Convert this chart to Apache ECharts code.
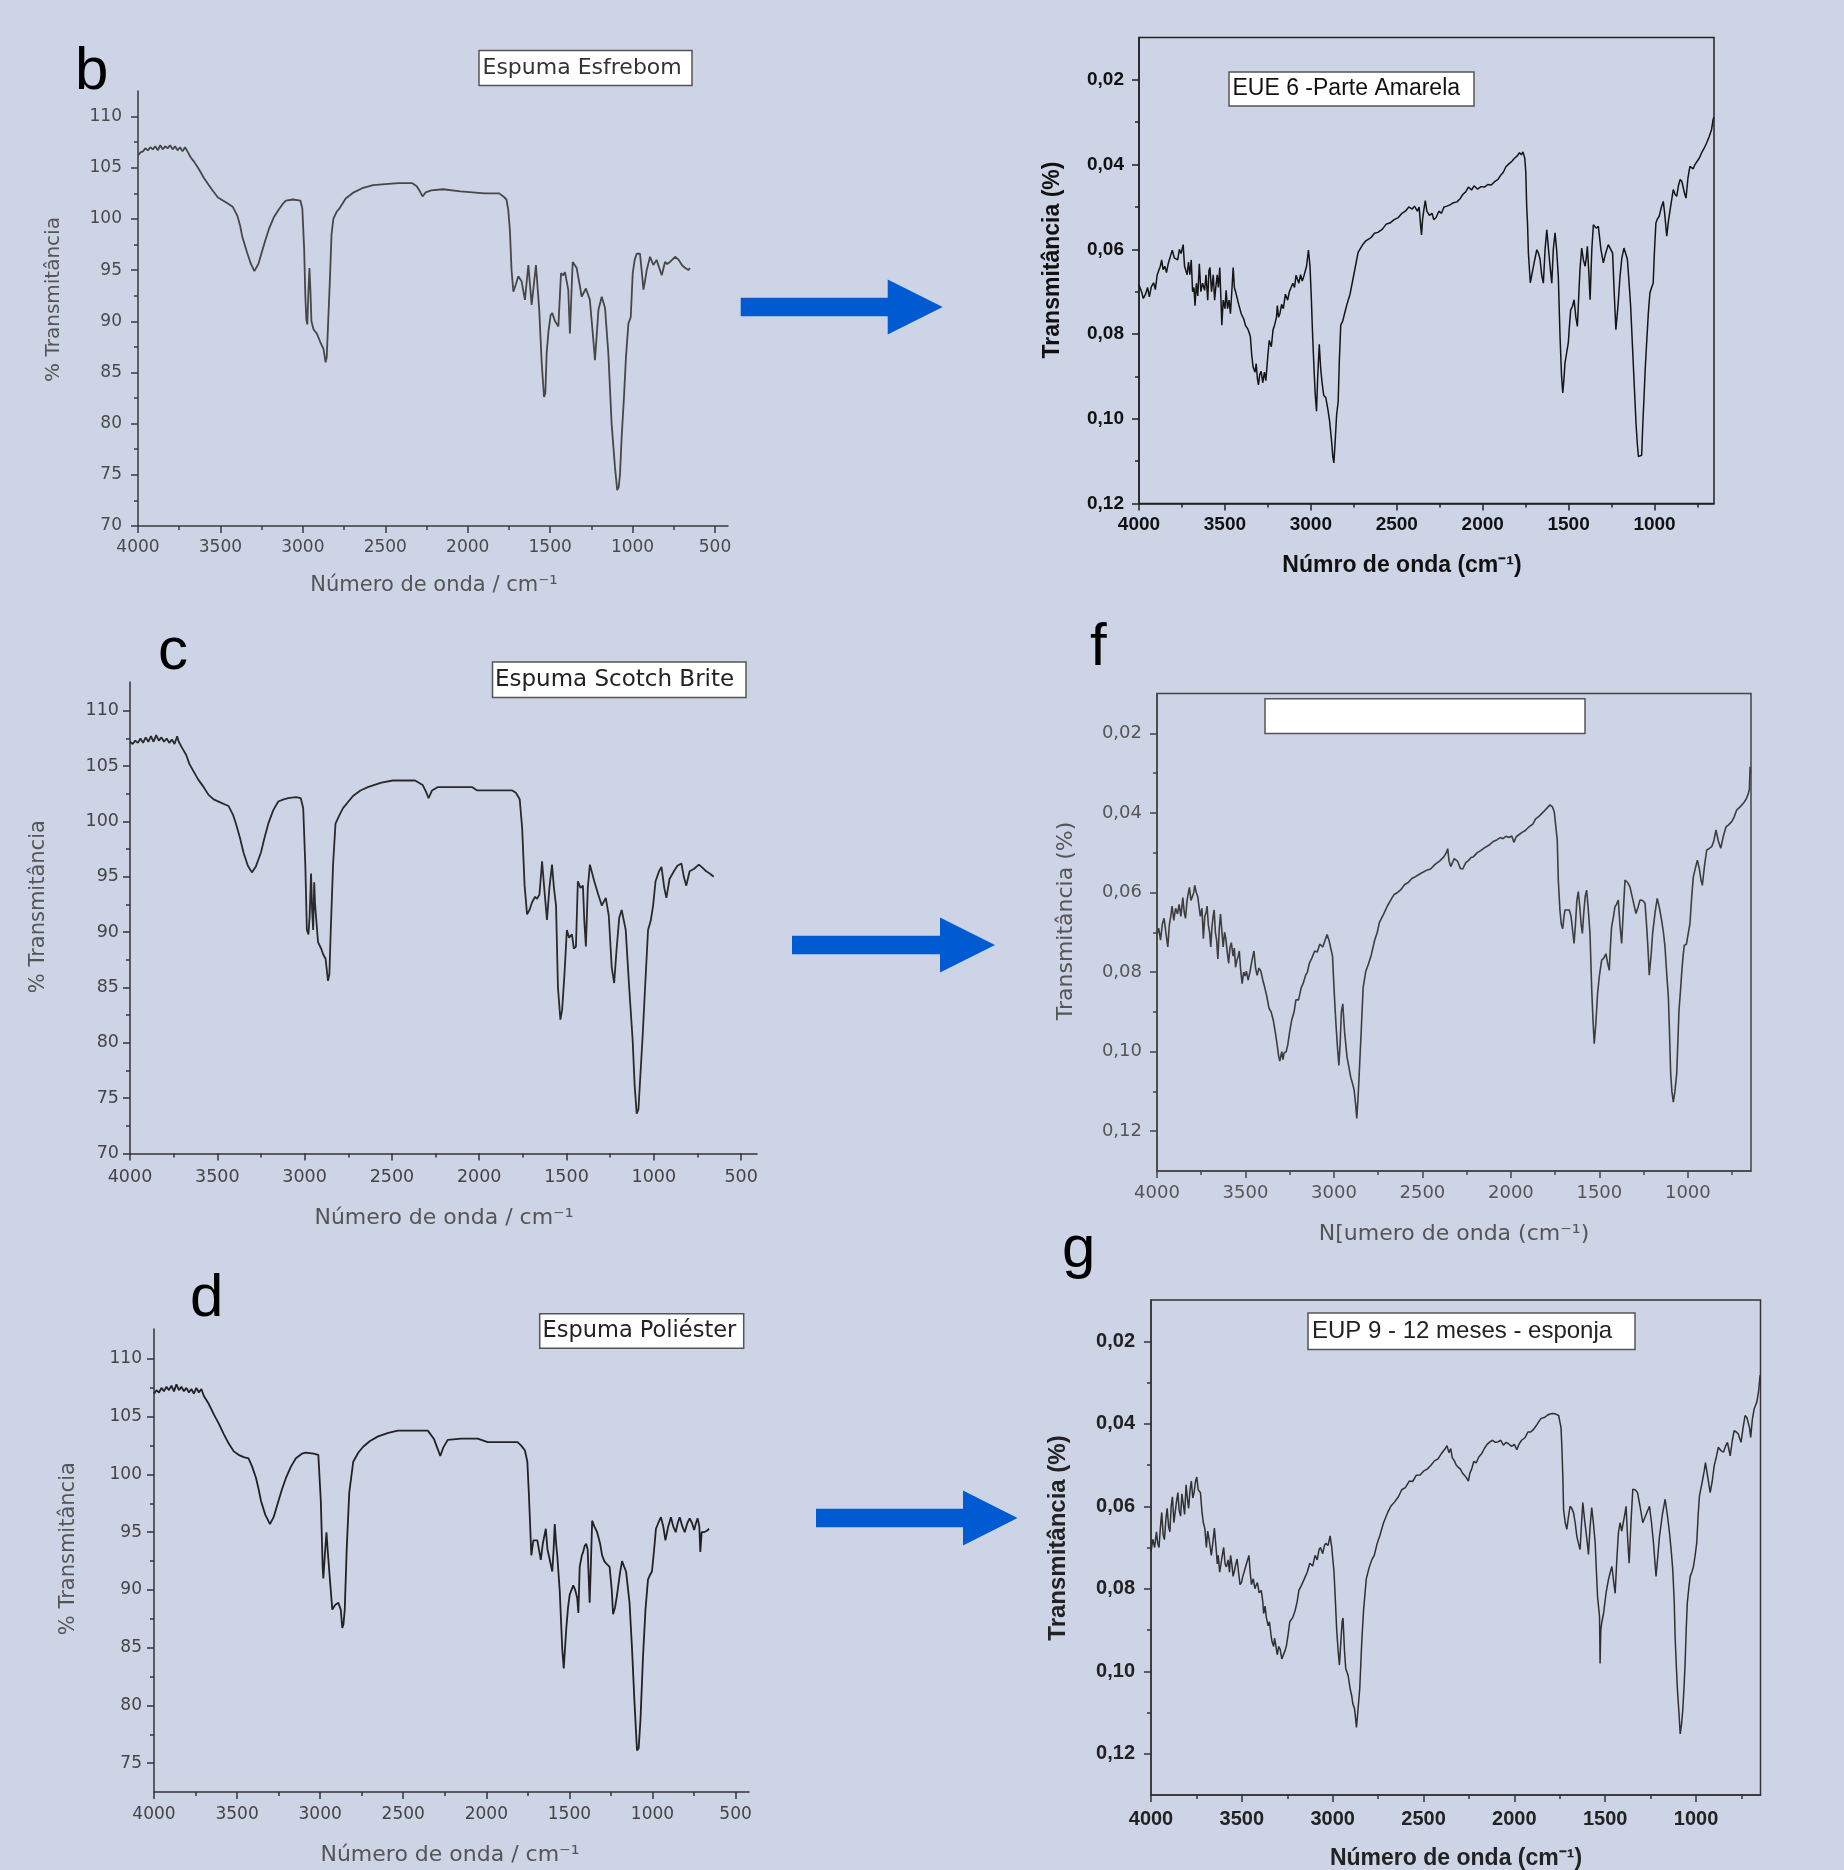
<!DOCTYPE html>
<html><head><meta charset="utf-8">
<script src="https://cdn.jsdelivr.net/npm/echarts@6/dist/echarts.min.js"></script>
<style>html,body{margin:0;padding:0;background:#cdd4e6;}#c{width:1844px;height:1870px;}</style>
</head><body><div id="c"></div>
<script>
// ---------- tick labels ----------
const X_LABELS_BCD = [4000,3500,3000,2500,2000,1500,1000,500];
const X_MINOR = [3750,3250,2750,2250,1750,1250,750];
const X_LABELS_EFG = [4000,3500,3000,2500,2000,1500,1000];
const Y_LABELS_BC = [70,75,80,85,90,95,100,105,110];
const Y_MINOR_BC = [72.5,77.5,82.5,87.5,92.5,97.5,102.5,107.5];
const Y_LABELS_D = [75,80,85,90,95,100,105,110];
const Y_MINOR_D = [77.5,82.5,87.5,92.5,97.5,102.5,107.5];
const Y_LABELS_EFG = [0.02,0.04,0.06,0.08,0.10,0.12];
const Y_MINOR_EFG = [0.03,0.05,0.07,0.09,0.11];

// ---------- spectra [wavenumber, value] ----------
const specB = [[4000,106.2],[3985,106.5],[3970,106.6],[3955,106.9],[3940,106.7],[3925,107.0],[3910,106.8],[3895,107.1],[3880,106.7],[3865,107.2],[3850,106.8],[3835,107.1],[3820,106.9],[3805,107.2],[3790,106.8],[3775,107.1],[3760,106.7],[3745,107.0],[3730,106.6],[3715,107.0],[3700,106.6],[3680,106.0],[3660,105.6],[3632,104.9],[3600,104.0],[3570,103.3],[3544,102.7],[3515,102.1],[3485,101.8],[3455,101.5],[3426,101.2],[3397,100.3],[3380,99.3],[3368,98.3],[3338,96.7],[3315,95.6],[3294,94.9],[3270,95.6],[3250,96.7],[3228,97.9],[3206,99.0],[3175,100.2],[3147,100.9],[3120,101.5],[3103,101.8],[3060,101.9],[3015,101.8],[3003,101.0],[2992,97.0],[2985,92.5],[2979,90.2],[2973,89.7],[2966,93.0],[2960,95.2],[2954,93.0],[2948,90.0],[2935,89.2],[2915,88.8],[2895,88.0],[2875,87.3],[2862,86.0],[2855,86.5],[2845,90.5],[2836,94.0],[2826,98.5],[2815,100.0],[2795,100.7],[2779,101.0],[2740,102.0],[2691,102.6],[2640,103.0],[2574,103.3],[2500,103.4],[2420,103.5],[2338,103.5],[2309,103.2],[2290,102.7],[2274,102.2],[2255,102.6],[2221,102.8],[2150,102.9],[2044,102.7],[1970,102.6],[1897,102.5],[1809,102.5],[1784,102.2],[1765,101.9],[1754,100.9],[1744,98.9],[1734,95.0],[1723,92.9],[1708,93.6],[1693,94.4],[1673,93.9],[1653,92.1],[1632,95.5],[1612,91.6],[1586,95.5],[1566,91.1],[1551,85.9],[1537,82.6],[1529,83.0],[1521,86.9],[1510,89.0],[1497,90.6],[1487,90.8],[1470,90.0],[1450,89.5],[1434,94.7],[1420,94.5],[1410,94.8],[1390,93.1],[1380,88.8],[1370,93.0],[1363,95.8],[1339,95.2],[1320,93.5],[1309,92.4],[1283,93.2],[1259,92.1],[1238,88.2],[1228,86.2],[1218,88.5],[1207,91.1],[1187,92.4],[1167,91.3],[1147,86.9],[1127,80.0],[1107,75.8],[1093,73.5],[1084,73.8],[1076,75.1],[1066,78.7],[1052,82.6],[1040,86.5],[1025,89.8],[1011,90.4],[999,94.7],[987,96.0],[975,96.6],[955,96.6],[945,95.0],[934,93.1],[924,94.0],[914,95.0],[894,96.3],[874,95.5],[854,96.0],[838,95.2],[823,94.5],[803,95.8],[790,95.6],[773,95.8],[742,96.3],[720,96.0],[701,95.5],[680,95.2],[661,95.0],[652,95.2]];

const specC = [[4000,107.2],[3985,107.0],[3970,107.3],[3955,107.1],[3940,107.5],[3925,107.1],[3910,107.6],[3895,107.2],[3880,107.7],[3865,107.2],[3850,107.8],[3835,107.3],[3820,107.6],[3805,107.2],[3790,107.5],[3775,107.1],[3760,107.4],[3745,107.0],[3730,107.7],[3721,107.2],[3700,106.6],[3678,106.0],[3660,105.2],[3635,104.5],[3610,103.8],[3578,103.1],[3550,102.4],[3521,102.0],[3480,101.7],[3436,101.4],[3410,100.6],[3393,99.8],[3370,98.5],[3350,97.2],[3325,96.0],[3302,95.4],[3280,95.9],[3250,97.2],[3230,98.5],[3208,99.8],[3180,101.0],[3151,101.8],[3120,102.0],[3094,102.1],[3050,102.2],[3022,102.1],[3008,101.2],[2996,96.1],[2987,90.2],[2978,89.8],[2971,91.5],[2963,95.3],[2957,92.0],[2951,90.2],[2945,94.5],[2940,92.5],[2923,89.1],[2905,88.5],[2894,88.0],[2880,87.6],[2866,85.6],[2858,86.2],[2851,89.8],[2837,96.1],[2823,99.8],[2800,100.6],[2780,101.2],[2723,102.3],[2680,102.8],[2638,103.1],[2560,103.5],[2495,103.7],[2420,103.7],[2367,103.7],[2324,103.3],[2305,102.7],[2290,102.1],[2270,102.8],[2239,103.1],[2150,103.1],[2039,103.1],[2011,102.8],[1900,102.8],[1811,102.8],[1790,102.6],[1768,102.0],[1754,99.4],[1740,94.2],[1726,91.6],[1712,92.0],[1697,92.7],[1680,93.2],[1669,93.0],[1655,93.4],[1640,96.4],[1625,93.5],[1612,91.1],[1598,94.0],[1583,96.1],[1572,94.0],[1560,92.4],[1549,85.0],[1535,82.1],[1525,83.0],[1512,86.1],[1498,90.2],[1485,89.5],[1469,89.8],[1458,88.5],[1446,88.7],[1435,94.6],[1420,94.0],[1406,94.2],[1398,91.0],[1389,88.7],[1378,94.0],[1366,96.1],[1341,94.6],[1320,93.5],[1298,92.4],[1275,93.1],[1258,91.5],[1241,86.8],[1227,85.4],[1213,88.5],[1198,91.3],[1184,92.0],[1161,90.2],[1141,85.0],[1121,80.2],[1110,76.2],[1098,73.6],[1088,74.0],[1079,76.5],[1064,80.6],[1050,85.0],[1033,90.2],[1018,91.0],[1004,92.4],[990,94.6],[970,95.5],[956,95.9],[940,94.0],[928,93.1],[910,94.8],[885,95.5],[865,96.0],[842,96.2],[828,95.0],[814,94.2],[795,95.5],[771,95.7],[742,96.1],[720,95.8],[700,95.5],[680,95.3],[657,95.0]];

const specD = [[4000,107.0],[3985,107.3],[3970,107.1],[3955,107.5],[3940,107.2],[3925,107.6],[3910,107.3],[3895,107.7],[3880,107.2],[3865,107.8],[3850,107.3],[3835,107.6],[3820,107.2],[3805,107.5],[3790,107.1],[3775,107.4],[3760,107.0],[3745,107.5],[3730,107.1],[3715,107.4],[3700,106.8],[3670,106.1],[3640,105.2],[3610,104.4],[3580,103.5],[3551,102.7],[3520,102.0],[3491,101.7],[3460,101.5],[3431,101.4],[3410,100.7],[3386,99.7],[3370,98.7],[3356,97.7],[3330,96.5],[3302,95.7],[3280,96.3],[3251,97.7],[3230,98.7],[3206,99.7],[3175,100.7],[3146,101.4],[3110,101.8],[3086,101.9],[3040,101.8],[3011,101.7],[2996,97.7],[2985,92.0],[2981,91.0],[2972,93.0],[2962,95.0],[2955,93.5],[2945,91.6],[2927,88.3],[2910,88.7],[2891,88.9],[2876,88.3],[2867,86.7],[2860,87.0],[2852,88.3],[2840,93.6],[2825,98.4],[2801,101.1],[2770,101.9],[2741,102.4],[2700,102.9],[2651,103.3],[2590,103.6],[2532,103.8],[2450,103.8],[2352,103.8],[2316,103.1],[2295,102.3],[2277,101.6],[2260,102.3],[2232,103.0],[2150,103.1],[2052,103.1],[1992,102.8],[1900,102.8],[1812,102.8],[1790,102.5],[1768,102.1],[1753,101.1],[1744,98.4],[1729,93.0],[1717,94.3],[1705,94.3],[1693,94.3],[1682,93.4],[1672,92.6],[1660,94.0],[1642,95.3],[1632,93.5],[1624,93.0],[1603,91.6],[1595,93.5],[1588,95.7],[1580,94.0],[1573,93.0],[1558,89.9],[1543,84.9],[1534,83.2],[1526,85.0],[1519,86.6],[1508,88.5],[1498,89.6],[1487,90.0],[1477,90.4],[1465,90.0],[1453,89.3],[1446,88.0],[1438,92.0],[1425,93.0],[1417,93.3],[1408,93.8],[1399,94.0],[1390,93.5],[1378,88.9],[1370,92.5],[1363,96.0],[1350,95.5],[1333,95.0],[1315,94.0],[1303,93.0],[1290,92.5],[1279,92.3],[1258,92.0],[1245,90.0],[1237,87.9],[1225,88.5],[1213,89.6],[1195,91.5],[1183,92.5],[1170,92.0],[1159,91.6],[1138,88.9],[1123,84.9],[1108,80.2],[1093,76.1],[1083,76.3],[1072,78.8],[1057,84.2],[1042,88.3],[1027,90.9],[1015,91.3],[1003,91.6],[990,93.5],[979,95.3],[965,95.8],[949,96.3],[935,95.5],[922,94.3],[905,95.5],[889,96.3],[875,95.5],[860,95.0],[848,95.8],[836,96.3],[820,95.5],[806,95.0],[790,95.8],[776,96.2],[762,95.8],[749,95.2],[738,95.8],[728,96.2],[718,95.5],[712,93.3],[708,93.3],[704,95.0],[690,95.0],[675,95.1],[659,95.3]];

const specE = [[4000,0.0684],[3985,0.0700],[3975,0.0716],[3962,0.0706],[3950,0.0690],[3940,0.0712],[3928,0.0688],[3915,0.0679],[3905,0.0695],[3894,0.0660],[3884,0.0661],[3876,0.0640],[3868,0.0625],[3860,0.0648],[3850,0.0640],[3840,0.0655],[3830,0.0634],[3822,0.0634],[3814,0.0612],[3806,0.0602],[3795,0.0620],[3785,0.0618],[3775,0.0625],[3765,0.0600],[3755,0.0610],[3743,0.0589],[3735,0.0640],[3728,0.0643],[3720,0.0660],[3712,0.0630],[3704,0.0660],[3696,0.0625],[3688,0.0700],[3680,0.0690],[3674,0.0733],[3666,0.0680],[3658,0.0710],[3649,0.0634],[3640,0.0700],[3630,0.0680],[3618,0.0697],[3610,0.0660],[3600,0.0720],[3593,0.0650],[3587,0.0643],[3578,0.0700],[3568,0.0660],[3560,0.0720],[3555,0.0697],[3545,0.0660],[3538,0.0690],[3530,0.0643],[3523,0.0720],[3518,0.0779],[3510,0.0720],[3500,0.0740],[3493,0.0697],[3485,0.0740],[3476,0.0720],[3468,0.0752],[3460,0.0700],[3452,0.0643],[3445,0.0690],[3438,0.0700],[3430,0.0697],[3420,0.0730],[3405,0.0752],[3390,0.0765],[3380,0.0780],[3367,0.0788],[3360,0.0795],[3352,0.0806],[3344,0.0850],[3336,0.0878],[3325,0.0890],[3318,0.0870],[3311,0.0905],[3305,0.0920],[3297,0.0895],[3289,0.0888],[3280,0.0915],[3270,0.0890],[3262,0.0910],[3258,0.0914],[3250,0.0850],[3242,0.0815],[3230,0.0830],[3220,0.0790],[3211,0.0779],[3200,0.0760],[3195,0.0733],[3188,0.0760],[3180,0.0752],[3170,0.0730],[3160,0.0740],[3148,0.0706],[3135,0.0720],[3125,0.0700],[3117,0.0697],[3105,0.0680],[3095,0.0690],[3086,0.0661],[3070,0.0680],[3060,0.0660],[3050,0.0675],[3039,0.0661],[3025,0.0640],[3014,0.0602],[3005,0.0640],[2998,0.0706],[2990,0.0800],[2982,0.0878],[2975,0.0940],[2967,0.0982],[2960,0.0900],[2951,0.0824],[2943,0.0880],[2935,0.0914],[2925,0.0945],[2913,0.0950],[2900,0.0980],[2891,0.1005],[2880,0.1050],[2872,0.1090],[2866,0.1104],[2858,0.1050],[2850,0.0990],[2841,0.0960],[2834,0.0860],[2826,0.0779],[2815,0.0770],[2804,0.0752],[2790,0.0730],[2772,0.0706],[2750,0.0660],[2725,0.0607],[2700,0.0590],[2680,0.0580],[2660,0.0575],[2647,0.0571],[2630,0.0562],[2610,0.0560],[2585,0.0553],[2560,0.0540],[2540,0.0538],[2515,0.0530],[2491,0.0525],[2470,0.0515],[2450,0.0510],[2430,0.0500],[2410,0.0505],[2397,0.0498],[2380,0.0510],[2370,0.0500],[2362,0.0540],[2356,0.0566],[2350,0.0530],[2340,0.0500],[2334,0.0485],[2325,0.0510],[2310,0.0520],[2295,0.0515],[2285,0.0530],[2271,0.0525],[2255,0.0510],[2240,0.0515],[2225,0.0500],[2208,0.0498],[2190,0.0495],[2170,0.0490],[2150,0.0488],[2130,0.0480],[2115,0.0470],[2100,0.0465],[2083,0.0453],[2065,0.0460],[2050,0.0450],[2030,0.0458],[2010,0.0452],[1990,0.0453],[1970,0.0447],[1950,0.0448],[1930,0.0440],[1911,0.0435],[1895,0.0425],[1880,0.0418],[1865,0.0405],[1849,0.0399],[1830,0.0392],[1815,0.0385],[1800,0.0380],[1786,0.0372],[1775,0.0377],[1766,0.0370],[1755,0.0385],[1749,0.0420],[1744,0.0498],[1739,0.0540],[1734,0.0609],[1723,0.0679],[1714,0.0680],[1700,0.0630],[1685,0.0601],[1675,0.0610],[1666,0.0624],[1657,0.0660],[1647,0.0680],[1637,0.0600],[1627,0.0554],[1617,0.0600],[1608,0.0640],[1598,0.0680],[1589,0.0600],[1579,0.0561],[1570,0.0600],[1560,0.0664],[1550,0.0806],[1541,0.0900],[1534,0.0939],[1528,0.0910],[1521,0.0868],[1502,0.0821],[1495,0.0780],[1488,0.0743],[1478,0.0735],[1468,0.0719],[1458,0.0760],[1449,0.0782],[1440,0.0700],[1434,0.0648],[1424,0.0597],[1414,0.0625],[1404,0.0640],[1397,0.0620],[1391,0.0593],[1383,0.0650],[1375,0.0719],[1365,0.0600],[1356,0.0542],[1340,0.0550],[1327,0.0546],[1312,0.0600],[1298,0.0632],[1285,0.0610],[1269,0.0589],[1255,0.0600],[1244,0.0609],[1235,0.0700],[1225,0.0790],[1212,0.0730],[1201,0.0664],[1190,0.0620],[1178,0.0597],[1168,0.0610],[1158,0.0624],[1148,0.0680],[1139,0.0735],[1124,0.0868],[1108,0.1010],[1100,0.1060],[1094,0.1089],[1085,0.1090],[1075,0.1086],[1068,0.1010],[1061,0.0947],[1054,0.0880],[1046,0.0821],[1036,0.0750],[1027,0.0703],[1017,0.0690],[1008,0.0680],[1000,0.0600],[992,0.0538],[983,0.0528],[973,0.0522],[960,0.0500],[949,0.0487],[940,0.0520],[929,0.0569],[918,0.0530],[906,0.0498],[891,0.0459],[881,0.0470],[871,0.0475],[861,0.0450],[851,0.0435],[841,0.0440],[832,0.0439],[824,0.0470],[817,0.0479],[805,0.0430],[794,0.0404],[775,0.0410],[765,0.0400],[755,0.0404],[740,0.0385],[726,0.0372],[712,0.0362],[697,0.0349],[683,0.0335],[668,0.0317],[660,0.0295],[655,0.0288]];

const specF = [[4000,0.0706],[3990,0.0690],[3980,0.0720],[3970,0.0680],[3960,0.0665],[3950,0.0700],[3939,0.0737],[3930,0.0680],[3922,0.0660],[3915,0.0634],[3905,0.0670],[3895,0.0640],[3884,0.0654],[3875,0.0630],[3865,0.0660],[3854,0.0613],[3846,0.0650],[3839,0.0665],[3830,0.0620],[3822,0.0600],[3817,0.0587],[3808,0.0620],[3799,0.0623],[3792,0.0600],[3787,0.0582],[3778,0.0600],[3770,0.0610],[3763,0.0613],[3755,0.0660],[3746,0.0640],[3738,0.0716],[3730,0.0660],[3722,0.0650],[3717,0.0634],[3710,0.0680],[3703,0.0700],[3696,0.0737],[3690,0.0690],[3683,0.0660],[3677,0.0644],[3670,0.0700],[3663,0.0720],[3656,0.0767],[3648,0.0690],[3641,0.0654],[3633,0.0700],[3626,0.0737],[3618,0.0700],[3611,0.0716],[3603,0.0750],[3595,0.0778],[3588,0.0740],[3580,0.0726],[3570,0.0760],[3563,0.0740],[3556,0.0788],[3548,0.0770],[3541,0.0760],[3535,0.0747],[3528,0.0790],[3519,0.0829],[3510,0.0800],[3503,0.0810],[3495,0.0798],[3485,0.0820],[3474,0.0798],[3463,0.0770],[3452,0.0747],[3443,0.0790],[3434,0.0808],[3424,0.0790],[3413,0.0798],[3402,0.0820],[3391,0.0839],[3380,0.0860],[3367,0.0891],[3355,0.0900],[3343,0.0921],[3332,0.0950],[3321,0.0983],[3313,0.1010],[3306,0.1024],[3295,0.1000],[3288,0.1020],[3282,0.1004],[3270,0.1000],[3261,0.0983],[3250,0.0950],[3239,0.0921],[3225,0.0900],[3215,0.0870],[3200,0.0870],[3185,0.0839],[3175,0.0830],[3160,0.0808],[3150,0.0800],[3139,0.0778],[3125,0.0765],[3109,0.0747],[3095,0.0750],[3080,0.0730],[3063,0.0737],[3050,0.0720],[3039,0.0706],[3028,0.0720],[3017,0.0716],[3008,0.0760],[3002,0.0819],[2995,0.0880],[2987,0.0942],[2980,0.0990],[2972,0.1035],[2965,0.0980],[2958,0.0900],[2950,0.0880],[2940,0.0950],[2926,0.1014],[2915,0.1040],[2905,0.1065],[2895,0.1080],[2886,0.1096],[2878,0.1130],[2871,0.1168],[2863,0.1110],[2856,0.1045],[2845,0.0940],[2835,0.0839],[2820,0.0798],[2805,0.0780],[2789,0.0757],[2770,0.0720],[2755,0.0700],[2743,0.0675],[2720,0.0655],[2698,0.0634],[2680,0.0620],[2660,0.0605],[2640,0.0600],[2622,0.0593],[2600,0.0580],[2580,0.0575],[2560,0.0565],[2546,0.0562],[2520,0.0555],[2500,0.0550],[2480,0.0545],[2454,0.0541],[2430,0.0530],[2400,0.0520],[2378,0.0510],[2365,0.0500],[2357,0.0490],[2350,0.0520],[2340,0.0535],[2333,0.0531],[2320,0.0515],[2302,0.0521],[2285,0.0540],[2272,0.0541],[2255,0.0525],[2240,0.0520],[2225,0.0512],[2211,0.0510],[2190,0.0500],[2170,0.0495],[2150,0.0488],[2120,0.0480],[2100,0.0472],[2080,0.0468],[2060,0.0462],[2045,0.0465],[2028,0.0459],[2010,0.0462],[1995,0.0458],[1983,0.0474],[1970,0.0460],[1955,0.0455],[1937,0.0449],[1920,0.0445],[1900,0.0436],[1876,0.0428],[1860,0.0415],[1840,0.0408],[1815,0.0397],[1800,0.0390],[1790,0.0386],[1779,0.0380],[1765,0.0385],[1755,0.0397],[1745,0.0401],[1738,0.0468],[1732,0.0569],[1723,0.0644],[1715,0.0680],[1707,0.0691],[1700,0.0660],[1694,0.0644],[1685,0.0645],[1670,0.0644],[1660,0.0660],[1650,0.0700],[1643,0.0728],[1635,0.0680],[1627,0.0620],[1619,0.0598],[1610,0.0640],[1603,0.0680],[1596,0.0703],[1588,0.0650],[1580,0.0610],[1572,0.0594],[1563,0.0640],[1553,0.0703],[1543,0.0846],[1536,0.0920],[1529,0.0980],[1520,0.0930],[1510,0.0854],[1500,0.0810],[1487,0.0770],[1475,0.0765],[1463,0.0754],[1452,0.0780],[1444,0.0796],[1438,0.0740],[1431,0.0687],[1420,0.0660],[1412,0.0636],[1403,0.0630],[1393,0.0619],[1384,0.0680],[1374,0.0728],[1365,0.0650],[1355,0.0569],[1340,0.0575],[1327,0.0586],[1310,0.0620],[1293,0.0653],[1280,0.0635],[1270,0.0619],[1255,0.0620],[1242,0.0627],[1235,0.0670],[1229,0.0712],[1223,0.0760],[1218,0.0808],[1208,0.0760],[1199,0.0703],[1185,0.0650],[1173,0.0615],[1160,0.0640],[1148,0.0670],[1138,0.0700],[1129,0.0737],[1120,0.0800],[1110,0.0863],[1103,0.0960],[1097,0.1056],[1090,0.1100],[1082,0.1127],[1073,0.1100],[1063,0.1056],[1055,0.0960],[1050,0.0896],[1042,0.0850],[1035,0.0804],[1027,0.0760],[1020,0.0733],[1008,0.0730],[997,0.0725],[988,0.0678],[978,0.0610],[969,0.0561],[958,0.0540],[946,0.0519],[935,0.0540],[925,0.0570],[918,0.0582],[905,0.0530],[893,0.0493],[880,0.0490],[865,0.0485],[853,0.0470],[841,0.0443],[828,0.0470],[814,0.0489],[800,0.0460],[784,0.0435],[770,0.0430],[752,0.0422],[738,0.0410],[724,0.0393],[705,0.0385],[686,0.0376],[670,0.0365],[658,0.0351],[652,0.0340],[648,0.0284],[645,0.0300]];

const specG = [[4000,0.0710],[3990,0.0680],[3980,0.0700],[3970,0.0662],[3963,0.0690],[3956,0.0700],[3948,0.0650],[3941,0.0615],[3933,0.0670],[3926,0.0681],[3918,0.0630],[3911,0.0605],[3903,0.0650],[3896,0.0662],[3889,0.0600],[3882,0.0577],[3874,0.0640],[3867,0.0643],[3860,0.0590],[3852,0.0567],[3845,0.0610],[3837,0.0624],[3830,0.0570],[3822,0.0596],[3815,0.0620],[3807,0.0548],[3800,0.0580],[3793,0.0605],[3785,0.0560],[3778,0.0539],[3770,0.0580],[3763,0.0567],[3755,0.0540],[3748,0.0529],[3740,0.0560],[3728,0.0567],[3719,0.0615],[3712,0.0640],[3704,0.0653],[3695,0.0700],[3688,0.0660],[3680,0.0681],[3674,0.0700],[3668,0.0719],[3660,0.0690],[3651,0.0653],[3642,0.0700],[3635,0.0740],[3630,0.0719],[3622,0.0760],[3615,0.0757],[3608,0.0720],[3600,0.0700],[3592,0.0740],[3585,0.0747],[3575,0.0730],[3568,0.0760],[3562,0.0719],[3555,0.0740],[3548,0.0770],[3541,0.0757],[3533,0.0740],[3526,0.0728],[3518,0.0760],[3510,0.0790],[3502,0.0785],[3495,0.0770],[3488,0.0760],[3482,0.0757],[3475,0.0740],[3468,0.0740],[3461,0.0719],[3454,0.0760],[3447,0.0790],[3437,0.0776],[3428,0.0800],[3420,0.0790],[3414,0.0785],[3405,0.0810],[3393,0.0804],[3385,0.0830],[3380,0.0860],[3372,0.0842],[3365,0.0870],[3355,0.0890],[3348,0.0880],[3340,0.0910],[3334,0.0928],[3325,0.0940],[3320,0.0920],[3313,0.0937],[3305,0.0960],[3297,0.0940],[3289,0.0947],[3280,0.0970],[3271,0.0970],[3262,0.0950],[3254,0.0937],[3245,0.0910],[3236,0.0880],[3220,0.0870],[3206,0.0852],[3195,0.0830],[3186,0.0804],[3170,0.0790],[3156,0.0776],[3140,0.0760],[3126,0.0738],[3110,0.0745],[3097,0.0719],[3085,0.0730],[3075,0.0705],[3067,0.0700],[3055,0.0715],[3045,0.0695],[3038,0.0690],[3025,0.0695],[3014,0.0672],[3005,0.0700],[2993,0.0757],[2985,0.0830],[2978,0.0899],[2970,0.0950],[2963,0.0985],[2955,0.0930],[2948,0.0880],[2943,0.0871],[2935,0.0950],[2928,0.0994],[2915,0.1010],[2904,0.1042],[2895,0.1060],[2889,0.1079],[2880,0.1090],[2875,0.1110],[2869,0.1136],[2860,0.1090],[2851,0.1042],[2840,0.0930],[2830,0.0852],[2815,0.0776],[2800,0.0750],[2785,0.0730],[2771,0.0719],[2755,0.0690],[2741,0.0672],[2720,0.0640],[2697,0.0615],[2680,0.0600],[2660,0.0590],[2638,0.0577],[2620,0.0560],[2600,0.0555],[2578,0.0539],[2560,0.0540],[2540,0.0525],[2519,0.0524],[2500,0.0515],[2480,0.0510],[2460,0.0501],[2440,0.0490],[2420,0.0485],[2401,0.0472],[2390,0.0470],[2380,0.0460],[2371,0.0453],[2360,0.0470],[2350,0.0460],[2342,0.0482],[2330,0.0490],[2320,0.0500],[2310,0.0505],[2297,0.0510],[2285,0.0520],[2275,0.0525],[2265,0.0530],[2253,0.0539],[2245,0.0520],[2235,0.0510],[2223,0.0491],[2210,0.0495],[2195,0.0480],[2179,0.0472],[2165,0.0460],[2150,0.0450],[2134,0.0444],[2120,0.0440],[2105,0.0445],[2090,0.0444],[2075,0.0440],[2060,0.0452],[2045,0.0445],[2031,0.0449],[2015,0.0455],[2000,0.0450],[1986,0.0463],[1975,0.0450],[1960,0.0440],[1942,0.0434],[1925,0.0420],[1910,0.0420],[1897,0.0415],[1880,0.0405],[1865,0.0395],[1853,0.0387],[1835,0.0385],[1820,0.0380],[1808,0.0377],[1790,0.0375],[1775,0.0376],[1765,0.0373],[1756,0.0380],[1748,0.0384],[1743,0.0410],[1738,0.0461],[1733,0.0530],[1729,0.0608],[1720,0.0640],[1711,0.0656],[1702,0.0625],[1693,0.0600],[1684,0.0605],[1674,0.0616],[1665,0.0640],[1656,0.0673],[1647,0.0690],[1638,0.0705],[1630,0.0640],[1623,0.0591],[1614,0.0630],[1605,0.0664],[1598,0.0690],[1592,0.0717],[1583,0.0650],[1574,0.0603],[1565,0.0640],[1555,0.0689],[1548,0.0760],[1542,0.0819],[1535,0.0850],[1531,0.0868],[1528,0.0981],[1524,0.0900],[1518,0.0880],[1509,0.0860],[1495,0.0810],[1482,0.0778],[1472,0.0760],[1463,0.0746],[1454,0.0780],[1445,0.0811],[1436,0.0730],[1427,0.0664],[1418,0.0640],[1409,0.0660],[1400,0.0656],[1392,0.0620],[1385,0.0600],[1376,0.0680],[1368,0.0738],[1358,0.0640],[1348,0.0559],[1335,0.0560],[1322,0.0567],[1308,0.0600],[1293,0.0640],[1275,0.0620],[1256,0.0600],[1245,0.0640],[1234,0.0689],[1227,0.0730],[1220,0.0770],[1210,0.0720],[1201,0.0673],[1185,0.0620],[1170,0.0583],[1158,0.0620],[1146,0.0664],[1136,0.0710],[1128,0.0754],[1120,0.0830],[1115,0.0917],[1108,0.0990],[1102,0.1047],[1094,0.1100],[1087,0.1152],[1080,0.1130],[1073,0.1095],[1066,0.1040],[1060,0.0981],[1054,0.0900],[1048,0.0835],[1040,0.0800],[1032,0.0770],[1023,0.0760],[1014,0.0746],[1005,0.0720],[996,0.0689],[988,0.0620],[981,0.0575],[972,0.0555],[963,0.0534],[955,0.0515],[948,0.0494],[935,0.0530],[922,0.0567],[911,0.0540],[900,0.0502],[888,0.0480],[877,0.0457],[863,0.0465],[849,0.0469],[838,0.0455],[827,0.0445],[820,0.0460],[812,0.0478],[800,0.0440],[790,0.0417],[778,0.0420],[767,0.0425],[760,0.0435],[752,0.0445],[741,0.0410],[730,0.0380],[720,0.0385],[712,0.0388],[705,0.0410],[699,0.0433],[690,0.0390],[680,0.0364],[672,0.0355],[665,0.0347],[656,0.0323],[647,0.0282]];

// ---------- panel layout / styling ----------
const DJ = "'DejaVu Sans', sans-serif";
const LS = "'Liberation Sans', Arial, sans-serif";
const panels = [
  {data:specB, grid:{left:138,top:91,width:590,height:435}, xMin:421, yMin:70, yMax:112.5, yInv:false, box:false,
   xLab:X_LABELS_BCD, yLab:Y_LABELS_BC, yMin2:Y_MINOR_BC, axisColor:'#3a3a3a', labColor:'#4a4a4a', font:DJ, fs:17, fw:'normal',
   lineColor:'#474747', lw:1.8, xMargin:13, yMargin:16, fmt:null},
  {data:specC, grid:{left:130,top:682,width:627,height:471.5}, xMin:409, yMin:70, yMax:112.6, yInv:false, box:false,
   xLab:X_LABELS_BCD, yLab:Y_LABELS_BC, yMin2:Y_MINOR_BC, axisColor:'#333', labColor:'#444', font:DJ, fs:17.5, fw:'normal',
   lineColor:'#2a2a2a', lw:1.8, xMargin:15, yMargin:11, fmt:null},
  {data:specD, grid:{left:154,top:1329,width:595,height:463}, xMin:419, yMin:72.5, yMax:112.6, yInv:false, box:false,
   xLab:X_LABELS_BCD, yLab:Y_LABELS_D, yMin2:Y_MINOR_D, axisColor:'#333', labColor:'#444', font:DJ, fs:17, fw:'normal',
   lineColor:'#222', lw:1.8, xMargin:14, yMargin:12, fmt:null},
  {data:specE, grid:{left:1139,top:37.5,width:575,height:466}, xMin:654, yMin:0.01, yMax:0.12, yInv:true, box:true,
   xLab:X_LABELS_EFG, yLab:Y_LABELS_EFG, yMin2:Y_MINOR_EFG, axisColor:'#222', labColor:'#111', font:LS, fs:19, fw:'bold',
   lineColor:'#151515', lw:1.5, xMargin:12, yMargin:15, fmt:'comma'},
  {data:specF, grid:{left:1157,top:693.5,width:594,height:477.5}, xMin:643, yMin:0.01, yMax:0.13, yInv:true, box:true,
   xLab:X_LABELS_EFG, yLab:Y_LABELS_EFG, yMin2:Y_MINOR_EFG, axisColor:'#444', labColor:'#555', font:DJ, fs:18, fw:'normal',
   lineColor:'#3e3e3e', lw:1.6, xMargin:13, yMargin:15, fmt:'comma'},
  {data:specG, grid:{left:1151,top:1300,width:609.5,height:495}, xMin:645, yMin:0.01, yMax:0.13, yInv:true, box:true,
   xLab:X_LABELS_EFG, yLab:Y_LABELS_EFG, yMin2:Y_MINOR_EFG, axisColor:'#333', labColor:'#222', font:LS, fs:20, fw:'bold',
   lineColor:'#303030', lw:1.5, xMargin:14, yMargin:16, fmt:'comma'}
];

const grids = [], xAxes = [], yAxes = [], series = [];
panels.forEach((p, i) => {
  grids.push(Object.assign({show:p.box, borderColor:p.axisColor, borderWidth:1.5, backgroundColor:'transparent'}, p.grid));
  const ls = {color:p.axisColor, width:1.5};
  const lab = {color:p.labColor, fontSize:p.fs, fontFamily:p.font, fontWeight:p.fw};
  xAxes.push({gridIndex:i, type:'value', position:'bottom', inverse:true, min:p.xMin, max:4000,
    axisLine:{show:true, onZero:false, lineStyle:ls},
    axisTick:{show:true, customValues:p.xLab, length:7, lineStyle:ls},
    axisLabel:Object.assign({customValues:p.xLab, margin:p.xMargin, formatter:(v => String(Math.round(v)))}, lab),
    splitLine:{show:false}});
  xAxes.push({gridIndex:i, type:'value', position:'bottom', inverse:true, min:p.xMin, max:4000,
    axisLine:{show:false, onZero:false}, axisTick:{show:true, customValues:X_MINOR, length:4, lineStyle:ls},
    axisLabel:{show:false}, splitLine:{show:false}});
  const fmt = p.fmt === 'comma' ? (v => v.toFixed(2).replace('.', ',')) : (v => String(v));
  yAxes.push({gridIndex:i, type:'value', position:'left', inverse:p.yInv, min:p.yMin, max:p.yMax,
    axisLine:{show:true, onZero:false, lineStyle:ls},
    axisTick:{show:true, customValues:p.yLab, length:7, lineStyle:ls},
    axisLabel:Object.assign({customValues:p.yLab, margin:p.yMargin, formatter:fmt}, lab),
    splitLine:{show:false}});
  yAxes.push({gridIndex:i, type:'value', position:'left', inverse:p.yInv, min:p.yMin, max:p.yMax,
    axisLine:{show:false, onZero:false}, axisTick:{show:true, customValues:p.yMin2, length:4, lineStyle:ls},
    axisLabel:{show:false}, splitLine:{show:false}});
  series.push({type:'line', xAxisIndex:2*i, yAxisIndex:2*i, data:p.data, showSymbol:false, symbol:'none',
    lineStyle:{color:p.lineColor, width:p.lw}, silent:true, clip:true});
});

// ---------- annotations ----------
function txt(text, x, y, font, fill, opts) {
  return Object.assign({type:'text', x:x, y:y, z:100,
    style:{text:text, font:font, fill:fill, textAlign:(opts&&opts.align)||'center', textVerticalAlign:'middle'}},
    opts && opts.rot ? {rotation:opts.rot} : {});
}
function box(x, y, w, h) {
  return {type:'rect', z:99, shape:{x:x, y:y, width:w, height:h}, style:{fill:'#ffffff', stroke:'#555', lineWidth:1.5}};
}
function arrow(x0, x1, x2, cy) {
  return {type:'polygon', z:90, shape:{points:[[x0,cy-9.2],[x1,cy-9.2],[x1,cy-27.5],[x2,cy],[x1,cy+27.5],[x1,cy+9.2],[x0,cy+9.2]]},
    style:{fill:'#005bd3'}};
}
const R = Math.PI/2;
const graphic = [
  arrow(740.7, 887.7, 942.7, 307),
  arrow(792, 940, 995, 945),
  arrow(816, 963, 1017.5, 1518),
  txt('b', 75, 72, "60px "+LS, '#000', {align:'left'}),
  txt('c', 158, 652, "60px "+LS, '#000', {align:'left'}),
  txt('d', 190, 1299, "60px "+LS, '#000', {align:'left'}),
  txt('f', 1090, 648, "60px "+LS, '#000', {align:'left'}),
  txt('g', 1062, 1250, "60px "+LS, '#000', {align:'left'}),
  box(479, 50.6, 213, 34.8), txt('Espuma Esfrebom', 482.5, 68, "22px "+DJ, '#333', {align:'left'}),
  box(492.5, 662, 253.5, 35.6), txt('Espuma Scotch Brite', 495, 680, "23px "+DJ, '#222', {align:'left'}),
  box(539.7, 1313.7, 204, 34.6), txt('Espuma Poliéster', 542.5, 1331, "22.5px "+DJ, '#222', {align:'left'}),
  box(1229, 72, 245, 34), txt('EUE 6 -Parte Amarela', 1232.5, 89, "23px "+LS, '#111', {align:'left'}),
  box(1265, 698.8, 320, 34.7),
  box(1308, 1313, 327, 36.5), txt('EUP 9 - 12 meses - esponja', 1312, 1331, "24px "+LS, '#222', {align:'left'}),
  txt('% Transmitância', 53.3, 299.5, "20px "+DJ, '#555', {rot:R}),
  txt('Número de onda / cm⁻¹', 434, 586, "21px "+DJ, '#555'),
  txt('% Transmitância', 38.5, 906.7, "21px "+DJ, '#555', {rot:R}),
  txt('Número de onda / cm⁻¹', 444, 1218, "22px "+DJ, '#555'),
  txt('% Transmitância', 68.5, 1548.7, "21px "+DJ, '#555', {rot:R}),
  txt('Número de onda / cm⁻¹', 450, 1855, "22px "+DJ, '#555'),
  txt('Transmitância (%)', 1052.5, 260, "bold 23px "+LS, '#111', {rot:R}),
  txt('Númro de onda (cm⁻¹)', 1402, 566, "bold 23px "+LS, '#111'),
  txt('Transmitância (%)', 1066, 921, "22px "+DJ, '#555', {rot:R}),
  txt('N[umero de onda (cm⁻¹)', 1454, 1234, "22px "+DJ, '#555'),
  txt('Transmitância (%)', 1058, 1538, "bold 24px "+LS, '#222', {rot:R}),
  txt('Número de onda (cm⁻¹)', 1456, 1859, "bold 23px "+LS, '#222')
];

const chart = echarts.init(document.getElementById('c'), null, {renderer:'canvas'});
chart.setOption({
  backgroundColor:'#cdd4e6',
  animation:false,
  grid:grids, xAxis:xAxes, yAxis:yAxes, series:series, graphic:graphic
});
</script></body></html>
